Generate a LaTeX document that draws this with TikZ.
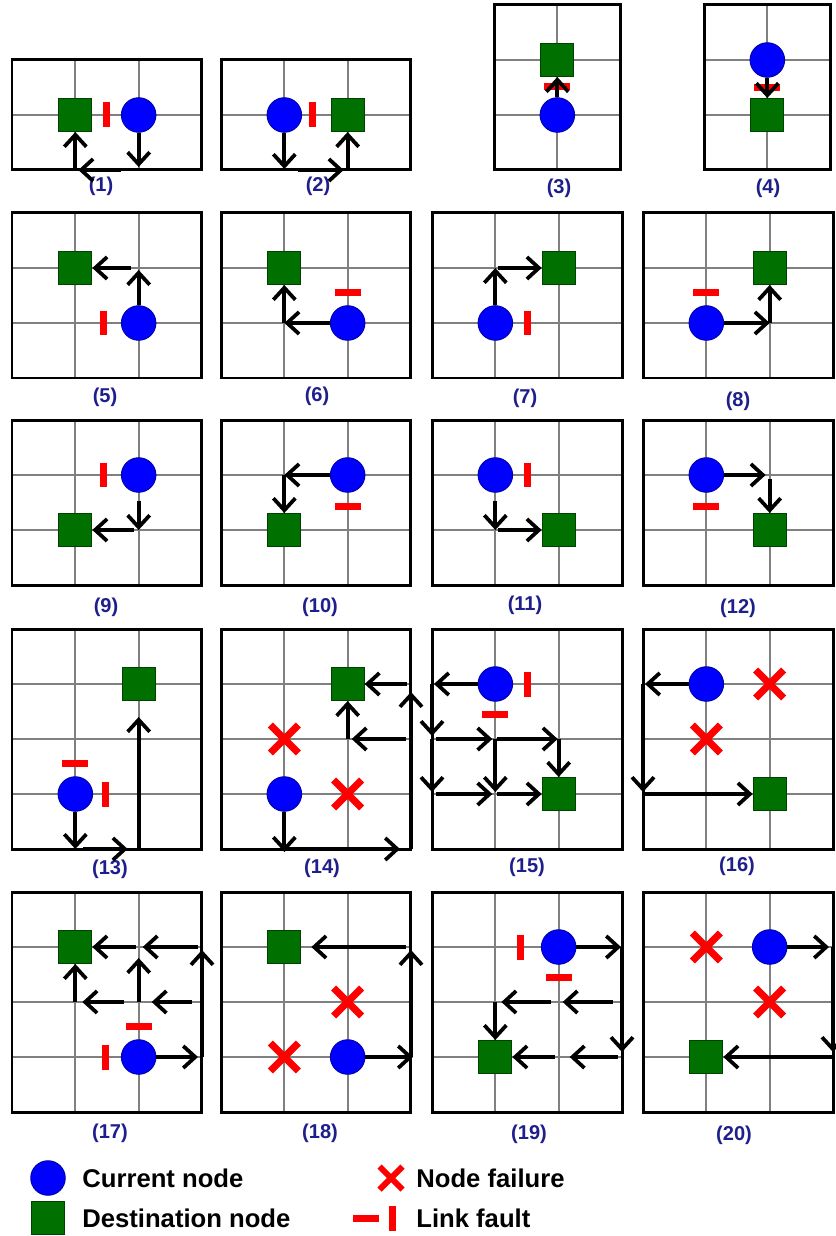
\documentclass[tikz,border=0pt]{standalone}
\usepackage{fontspec}
\setmainfont{Liberation Sans}
\usepackage{tikz}
\usetikzlibrary{positioning}
\usetikzlibrary{arrows.meta, shapes.misc, calc}
\definecolor{navy}{RGB}{30, 30, 140}
\definecolor{dgreen}{RGB}{0, 112, 0}

\begin{document}
\begin{tikzpicture}[x=0.02cm, y=-0.02cm,
    gridline/.style={draw=gray, line width=0.035cm},
    meshframe/.style={draw=black, line width=0.06cm},
    cur/.style={circle, fill=blue, draw=blue!70!black, line width=0.02cm, minimum size=0.69cm, inner sep=0},
    dst/.style={rectangle, fill=dgreen, draw=dgreen!60!black, line width=0.02cm, minimum size=0.66cm, inner sep=0},
    linkv/.style={rectangle, fill=red, minimum width=0.14cm, minimum height=0.5cm, inner sep=0},
    linkh/.style={rectangle, fill=red, minimum width=0.52cm, minimum height=0.14cm, inner sep=0},
    fail/.style={cross out, draw=red, line width=0.14cm, minimum size=0.42cm, inner sep=0},
    arr/.style={line width=0.075cm, -{Straight Barb[length=0.24cm, width=0.44cm]}},
    lbl/.style={text=navy, font=\bfseries\fontsize{11.4}{13}\selectfont},
    leg/.style={anchor=west, font=\bfseries\fontsize{14.6}{17}\selectfont, inner sep=0}]
    \useasboundingbox (0,0) rectangle (835,1236);

    % Vẽ lưới và khung cho từng ô, đặt tên các điểm lưới
    \foreach \n/\ox/\oy/\cols/\rows in {1/12/60/3/2, 2/221/60/3/2, 3/494/5/2/3, 4/704/5/2/3,
        5/12/213/3/3, 6/221/213/3/3, 7/432/213/3/3, 8/643/213/3/3,
        9/12/420/3/3, 10/221/420/3/3, 11/432/420/3/3, 12/643/420/3/3,
        13/12/629/3/4, 14/221/629/3/4, 15/432/629/3/4, 16/643/629/3/4,
        17/12/892/3/4, 18/221/892/3/4, 19/432/892/3/4, 20/643/892/3/4} {
      \foreach \i in {0,...,\cols} {
        \foreach \j in {0,...,\rows} {
          \coordinate (p\n-\i-\j) at ({\ox+63.33*\i},{\oy+55*\j});
        }
      }
      \foreach \i in {1,...,\cols} \draw[gridline] (p\n-\i-0) -- (p\n-\i-\rows);
      \foreach \j in {1,...,\rows} \draw[gridline] (p\n-0-\j) -- (p\n-\cols-\j);
      \draw[meshframe] (p\n-0-0) rectangle (p\n-\cols-\rows);
    }

    % Nhãn (1) ... (20)
    \foreach \n/\lx/\ly in {1/101/186, 2/318/186, 3/559/188, 4/768/188,
        5/105/397, 6/317/396, 7/525/398, 8/738/401,
        9/106/607, 10/320/607, 11/525/605, 12/738/608,
        13/110/869, 14/322/868, 15/527/867, 16/737/866,
        17/110/1133, 18/320/1133, 19/529/1134, 20/734/1135}
      \node[lbl] (l\n) at (\lx,\ly) {(\n)};

    %(1)
    \node[dst] (D1) at (p1-1-1) {};
    \node[cur] (C1) at (p1-2-1) {};
    \node[linkv] (f1) at ($(p1-1-1)!0.5!(p1-2-1)$) {};
    \draw[arr, shorten >=0.06cm] (C1) -- (p1-2-2);
    \draw[arr, shorten <=0.36cm, shorten >=0.06cm] (p1-2-2) -- (p1-1-2);
    \draw[arr] (p1-1-2) -- (D1);
    %(2)
    \node[cur] (C2) at (p2-1-1) {};
    \node[dst] (D2) at (p2-2-1) {};
    \node[linkv] (f2) at ($(p2-1-1)!0.45!(p2-2-1)$) {};
    \draw[arr, shorten >=0.02cm] (C2) -- (p2-1-2);
    \draw[arr, shorten <=0.28cm, shorten >=0.08cm] (p2-1-2) -- (p2-2-2);
    \draw[arr] (p2-2-2) -- (D2);
    %(3)
    \node[dst] (D3) at (p3-1-1) {};
    \node[cur] (C3) at (p3-1-2) {};
    \node[linkh] (f3) at ($(p3-1-2)!0.52!(p3-1-1)$) {};
    \draw[arr] (C3) -- (D3);
    %(4)
    \node[cur] (C4) at (p4-1-1) {};
    \node[dst] (D4) at (p4-1-2) {};
    \node[linkh] (f4) at ($(p4-1-1)!0.5!(p4-1-2)$) {};
    \draw[arr] (C4) -- (D4);

    %(5)
    \node[dst] (D5) at (p5-1-1) {};
    \node[cur] (C5) at (p5-2-2) {};
    \node[linkv] (f5) at ($(p5-1-2)!0.45!(p5-2-2)$) {};
    \draw[arr, shorten >=0.04cm] (C5) -- (p5-2-1);
    \draw[arr, shorten <=0.16cm] (p5-2-1) -- (D5);
    %(6)
    \node[dst] (D6) at (p6-1-1) {};
    \node[cur] (C6) at (p6-2-2) {};
    \node[linkh] (f6) at ($(p6-2-2)!0.56!(p6-2-1)$) {};
    \draw[arr] (C6) -- (p6-1-2);
    \draw[arr] (p6-1-2) -- (D6);
    %(7)
    \node[cur] (C7) at (p7-1-2) {};
    \node[dst] (D7) at (p7-2-1) {};
    \node[linkv] (f7) at ($(p7-1-2)!0.5!(p7-2-2)$) {};
    \draw[arr] (C7) -- (p7-1-1);
    \draw[arr, shorten <=0.06cm] (p7-1-1) -- (D7);
    %(8)
    \node[cur] (C8) at (p8-1-2) {};
    \node[dst] (D8) at (p8-2-1) {};
    \node[linkh] (f8) at ($(p8-1-2)!0.56!(p8-1-1)$) {};
    \draw[arr] (C8) -- (p8-2-2);
    \draw[arr] (p8-2-2) -- (D8);

    %(9)
    \node[cur] (C9) at (p9-2-1) {};
    \node[dst] (D9) at (p9-1-2) {};
    \node[linkv] (f9) at ($(p9-1-1)!0.45!(p9-2-1)$) {};
    \draw[arr, shorten <=0.16cm] (C9) -- (p9-2-2);
    \draw[arr, shorten <=0.1cm] (p9-2-2) -- (D9);
    %(10)
    \node[cur] (C10) at (p10-2-1) {};
    \node[dst] (D10) at (p10-1-2) {};
    \node[linkh] (f10) at ($(p10-2-1)!0.58!(p10-2-2)$) {};
    \draw[arr] (C10) -- (p10-1-1);
    \draw[arr] (p10-1-1) -- (D10);
    %(11)
    \node[cur] (C11) at (p11-1-1) {};
    \node[dst] (D11) at (p11-2-2) {};
    \node[linkv] (f11) at ($(p11-1-1)!0.5!(p11-2-1)$) {};
    \draw[arr, shorten <=0.16cm] (C11) -- (p11-1-2);
    \draw[arr, shorten <=0.06cm] (p11-1-2) -- (D11);
    %(12)
    \node[cur] (C12) at (p12-1-1) {};
    \node[dst] (D12) at (p12-2-2) {};
    \node[linkh] (f12) at ($(p12-1-1)!0.58!(p12-1-2)$) {};
    \draw[arr, shorten >=0.08cm] (C12) -- (p12-2-1);
    \draw[arr, shorten <=0.08cm] (p12-2-1) -- (D12);

    %(13)
    \node[cur] (C13) at (p13-1-3) {};
    \node[dst] (D13) at (p13-2-1) {};
    \node[linkh] (f13a) at ($(p13-1-3)!0.56!(p13-1-2)$) {};
    \node[linkv] (f13b) at ($(p13-1-3)!0.48!(p13-2-3)$) {};
    \draw[arr] (C13) -- (p13-1-4);
    \draw[arr, shorten <=0.16cm, shorten >=0.22cm] (p13-1-4) -- (p13-2-4);
    \draw[arr, shorten >=0.32cm] (p13-2-4) -- (D13);
    %(14)
    \node[dst] (D14) at (p14-2-1) {};
    \node[fail] (x14a) at (p14-1-2) {};
    \node[fail] (x14b) at (p14-2-3) {};
    \node[cur] (C14) at (p14-1-3) {};
    \draw[arr, shorten >=-0.06cm] (C14) -- (p14-1-4);
    \draw[arr, shorten <=0.08cm, shorten >=0.22cm] (p14-1-4) -- (p14-3-4);
    \draw[arr, shorten >=0.16cm] (p14-3-4) -- (p14-3-1);
    \draw[arr, shorten <=0.08cm] (p14-3-1) -- (D14);
    \draw[arr, shorten <=0.1cm, shorten >=0.08cm] (p14-3-2) -- (p14-2-2);
    \draw[arr] (p14-2-2) -- (D14);
    %(15)
    \node[cur] (C15) at (p15-1-1) {};
    \node[dst] (D15) at (p15-2-3) {};
    \node[linkv] (f15a) at ($(p15-1-1)!0.5!(p15-2-1)$) {};
    \node[linkh] (f15b) at ($(p15-1-1)!0.56!(p15-1-2)$) {};
    \draw[arr, shorten >=0.04cm] (C15) -- (p15-0-1);
    \draw[arr, shorten >=0.06cm] (p15-0-1) -- (p15-0-2);
    \draw[arr, shorten <=0.08cm, shorten >=0.06cm] (p15-0-2) -- (p15-1-2);
    \draw[arr, shorten <=0.04cm, shorten >=0.02cm] (p15-1-2) -- (p15-2-2);
    \draw[arr] (p15-2-2) -- (D15);
    \draw[arr, shorten >=0.04cm] (p15-0-2) -- (p15-0-3);
    \draw[arr, shorten <=0.08cm, shorten >=0.06cm] (p15-0-3) -- (p15-1-3);
    \draw[arr, shorten >=0.04cm] (p15-1-2) -- (p15-1-3);
    \draw[arr, shorten <=0.04cm] (p15-1-3) -- (D15);
    %(16)
    \node[cur] (C16) at (p16-1-1) {};
    \node[fail] (x16a) at (p16-2-1) {};
    \node[fail] (x16b) at (p16-1-2) {};
    \node[dst] (D16) at (p16-2-3) {};
    \draw[arr, shorten >=0.04cm] (C16) -- (p16-0-1);
    \draw[arr, shorten >=0.04cm] (p16-0-1) -- (p16-0-3);
    \draw[arr] (p16-0-3) -- (D16);

    %(17)
    \node[dst] (D17) at (p17-1-1) {};
    \node[cur] (C17) at (p17-2-3) {};
    \node[linkv] (f17a) at ($(p17-1-3)!0.47!(p17-2-3)$) {};
    \node[linkh] (f17b) at ($(p17-2-3)!0.56!(p17-2-2)$) {};
    \draw[arr, shorten >=0.08cm] (C17) -- (p17-3-3);
    \draw[arr, shorten >=0.06cm] (p17-3-3) -- (p17-3-1);
    \draw[arr, shorten <=0.08cm, shorten >=0.08cm] (p17-3-1) -- (p17-2-1);
    \draw[arr, shorten <=0.06cm] (p17-2-1) -- (D17);
    \draw[arr, shorten <=0.2cm, shorten >=0.26cm] (p17-3-2) -- (p17-2-2);
    \draw[arr, shorten >=0.22cm] (p17-2-2) -- (p17-2-1);
    \draw[arr, shorten <=0.3cm, shorten >=0.14cm] (p17-2-2) -- (p17-1-2);
    \draw[arr] (p17-1-2) -- (D17);
    %(18)
    \node[dst] (D18) at (p18-1-1) {};
    \node[fail] (x18a) at (p18-2-2) {};
    \node[fail] (x18b) at (p18-1-3) {};
    \node[cur] (C18) at (p18-2-3) {};
    \draw[arr, shorten >=-0.04cm] (C18) -- (p18-3-3);
    \draw[arr, shorten >=0.06cm] (p18-3-3) -- (p18-3-1);
    \draw[arr, shorten <=0.1cm, shorten >=0.2cm] (p18-3-1) -- (D18);
    %(19)
    \node[cur] (C19) at (p19-2-1) {};
    \node[dst] (D19) at (p19-1-3) {};
    \node[linkv] (f19a) at ($(p19-2-1)!0.6!(p19-1-1)$) {};
    \node[linkh] (f19b) at ($(p19-2-1)!0.56!(p19-2-2)$) {};
    \draw[arr, shorten >=0.02cm] (C19) -- (p19-3-1);
    \draw[arr, shorten >=0.1cm] (p19-3-1) -- (p19-3-3);
    \draw[arr, shorten <=0.18cm, shorten >=0.08cm] (p19-3-2) -- (p19-2-2);
    \draw[arr, shorten <=0.16cm, shorten >=0.12cm] (p19-2-2) -- (p19-1-2);
    \draw[arr] (p19-1-2) -- (D19);
    \draw[arr, shorten <=0.08cm, shorten >=0.22cm] (p19-3-3) -- (p19-2-3);
    \draw[arr, shorten <=0.08cm] (p19-2-3) -- (D19);
    %(20)
    \node[fail] (x20a) at (p20-1-1) {};
    \node[cur] (C20) at (p20-2-1) {};
    \node[fail] (x20b) at (p20-2-2) {};
    \node[dst] (D20) at (p20-1-3) {};
    \draw[arr, shorten >=0.08cm] (C20) -- (p20-3-1);
    \draw[arr, shorten >=0.1cm] (p20-3-1) -- (p20-3-3);
    \draw[arr] (p20-3-3) -- (D20);

    % Chú thích
    \node[cur] (lc) at (48,1178) {};
    \node[leg] (lct) at (82,1178) {Current node};
    \node[dst] (ld) at (48,1218) {};
    \node[leg] (ldt) at (82,1218) {Destination node};
    \node[fail, minimum size=0.34cm, line width=0.12cm] (lx) at (391,1178) {};
    \node[leg] (lxt) at (416,1178) {Node failure};
    \node[linkh] (lh) at (366,1218) {};
    \node[linkv] (lv) at (392,1218) {};
    \node[leg] (lft) at (416,1218) {Link fault};
\end{tikzpicture}
\end{document}
